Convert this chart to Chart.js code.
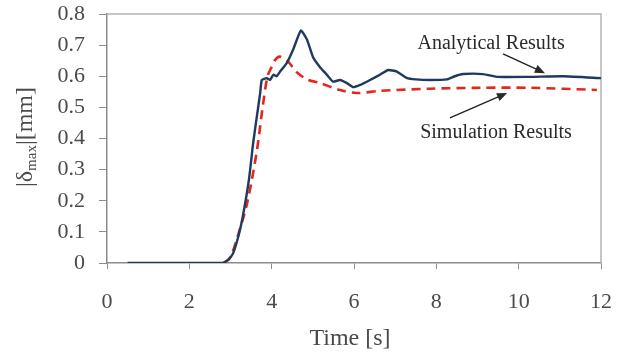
<!DOCTYPE html>
<html>
<head>
<meta charset="utf-8">
<script src="https://cdn.jsdelivr.net/npm/chart.js@4.4.1/dist/chart.umd.min.js"></script>
<style>
  body { margin: 0; background: #fff; }
  #wrap { width: 627px; height: 358px; }
</style>
</head>
<body>
<div id="wrap"><canvas id="myChart" width="627" height="358"></canvas></div>
<script>
// Analytical results (time [s], |delta max| [mm])
const timeAnalytical = [0.5, 2.8, 2.95, 3.06, 3.2, 3.3, 3.45, 3.55, 3.65, 3.72, 3.76, 3.88, 3.96, 4.04, 4.12, 4.2, 4.37, 4.52, 4.71, 4.86, 5.0, 5.17, 5.34, 5.49, 5.66, 5.83, 5.98, 6.15, 6.39, 6.63, 6.83, 7.04, 7.28, 7.5, 7.85, 8.26, 8.45, 8.65, 9.13, 9.47, 10.27, 11.08, 12];
const valuesAnalytical = [0, 0, 0.01, 0.03, 0.09, 0.15, 0.27, 0.385, 0.48, 0.545, 0.588, 0.594, 0.588, 0.605, 0.6, 0.614, 0.643, 0.685, 0.747, 0.717, 0.663, 0.63, 0.605, 0.583, 0.588, 0.578, 0.565, 0.572, 0.588, 0.605, 0.62, 0.615, 0.595, 0.59, 0.588, 0.59, 0.6, 0.607, 0.607, 0.598, 0.598, 0.6, 0.594];

// Simulation results
const timeSimulation = [2.85, 3.0, 3.15, 3.4, 3.64, 3.78, 3.9, 4.0, 4.08, 4.2, 4.4, 4.6, 4.86, 5.17, 5.66, 6.07, 6.63, 7.85, 9.06, 10.27, 11.9];
const valuesSimulation = [0, 0.02, 0.075, 0.19, 0.36, 0.5, 0.6, 0.63, 0.652, 0.663, 0.647, 0.614, 0.59, 0.578, 0.556, 0.546, 0.553, 0.56, 0.563, 0.563, 0.556];

// Axis ticks
const xTicks = [0, 2, 4, 6, 8, 10, 12];
const yTicks = [0, 0.1, 0.2, 0.3, 0.4, 0.5, 0.6, 0.7, 0.8];

// Annotation labels: text position and arrow (start -> end), in data units
const annotations = [
  { text: 'Analytical Results', at: [9.33, 0.705], from: [9.62, 0.672], to: [10.64, 0.61] },
  { text: 'Simulation Results', at: [9.45, 0.418], from: [8.33, 0.466], to: [9.72, 0.546] }
];

const serif = '"Liberation Serif", "Times New Roman", serif';
const textGray = '#4a4a4a';
const axisGray = '#8c8c8c';

function toPoints(xs, ys) {
  return xs.map((x, i) => ({ x: x, y: ys[i] }));
}

// Frame, axis titles and arrow labels
const decor = {
  id: 'decor',
  beforeDatasetsDraw(chart) {
    const { ctx, chartArea: a } = chart;
    ctx.save();
    ctx.strokeStyle = '#b4b4b4';
    ctx.lineWidth = 1.5;
    ctx.beginPath();
    ctx.moveTo(a.left, a.top);
    ctx.lineTo(a.right, a.top);
    ctx.lineTo(a.right, a.bottom);
    ctx.stroke();
    ctx.restore();
  },
  afterDatasetsDraw(chart) {
    const { ctx, scales } = chart;
    const x = scales.x, y = scales.y;
    ctx.save();
    ctx.fillStyle = '#2a2a2a';
    ctx.strokeStyle = '#222';
    ctx.font = '20px ' + serif;
    ctx.textAlign = 'center';
    ctx.textBaseline = 'middle';
    annotations.forEach(an => {
      ctx.fillText(an.text, x.getPixelForValue(an.at[0]), y.getPixelForValue(an.at[1]));
      const x1 = x.getPixelForValue(an.from[0]), y1 = y.getPixelForValue(an.from[1]);
      const x2 = x.getPixelForValue(an.to[0]), y2 = y.getPixelForValue(an.to[1]);
      const ang = Math.atan2(y2 - y1, x2 - x1);
      ctx.lineWidth = 1.4;
      ctx.beginPath();
      ctx.moveTo(x1, y1);
      ctx.lineTo(x2 - 6 * Math.cos(ang), y2 - 6 * Math.sin(ang));
      ctx.stroke();
      ctx.beginPath();
      ctx.moveTo(x2, y2);
      ctx.lineTo(x2 - 11 * Math.cos(ang - 0.4), y2 - 11 * Math.sin(ang - 0.4));
      ctx.lineTo(x2 - 11 * Math.cos(ang + 0.4), y2 - 11 * Math.sin(ang + 0.4));
      ctx.closePath();
      ctx.fill();
    });

    // x title
    ctx.fillStyle = textGray;
    ctx.font = '24px ' + serif;
    ctx.fillText('Time [s]', 350, 339);

    // y title with subscript
    ctx.translate(26, 137);
    ctx.rotate(-Math.PI / 2);
    const big = '24px ' + serif, small = '15px ' + serif;
    const parts = [['|δ', big, 0], ['max', small, 6], ['|[mm]', big, 0]];
    let total = 0;
    parts.forEach(p => { ctx.font = p[1]; total += ctx.measureText(p[0]).width; });
    let cx = -total / 2;
    ctx.textAlign = 'left';
    parts.forEach(p => {
      ctx.font = p[1];
      ctx.fillText(p[0], cx, p[2]);
      cx += ctx.measureText(p[0]).width;
    });
    ctx.restore();
  }
};

const ctx = document.getElementById('myChart').getContext('2d');

const myChart = new Chart(ctx, {
  type: 'line',
  data: {
    datasets: [
      {
        label: 'Analytical Results',
        data: toPoints(timeAnalytical, valuesAnalytical),
        borderColor: '#1f3a5f',
        borderWidth: 2.4,
        pointRadius: 0,
        tension: 0.15,
        fill: false
      },
      {
        label: 'Simulation Results',
        data: toPoints(timeSimulation, valuesSimulation),
        borderColor: '#e0281e',
        borderWidth: 2.6,
        borderDash: [9, 6],
        pointRadius: 0,
        tension: 0.3,
        fill: false
      }
    ]
  },
  options: {
    responsive: false,
    animation: false,
    layout: { padding: { left: 0, right: 26, top: 14, bottom: 0 } },
    plugins: { legend: { display: false }, tooltip: { enabled: false } },
    scales: {
      x: {
        type: 'linear',
        min: 0,
        max: 12,
        afterBuildTicks: scale => { scale.ticks = xTicks.map(v => ({ value: v })); },
        afterFit: scale => {
          scale.height = 95;
          scale.paddingLeft = 0;
          scale.paddingRight = 0;
        },
        border: { color: axisGray, width: 1.5 },
        grid: { drawOnChartArea: false, drawTicks: true, tickLength: 6, color: axisGray },
        ticks: { color: textGray, font: { family: serif, size: 22 }, padding: 20, maxRotation: 0 }
      },
      y: {
        min: 0,
        max: 0.8,
        afterBuildTicks: scale => { scale.ticks = yTicks.map(v => ({ value: v })); },
        afterFit: scale => {
          scale.width = 107;
          scale.paddingTop = 0;
          scale.paddingBottom = 0;
        },
        border: { color: axisGray, width: 1.5 },
        grid: { drawOnChartArea: false, drawTicks: true, tickLength: 8, color: axisGray },
        ticks: {
          color: textGray,
          font: { family: serif, size: 22 },
          padding: 14,
          callback: v => v === 0 ? '0' : v.toFixed(1)
        }
      }
    }
  },
  plugins: [decor]
});
</script>
</body>
</html>
